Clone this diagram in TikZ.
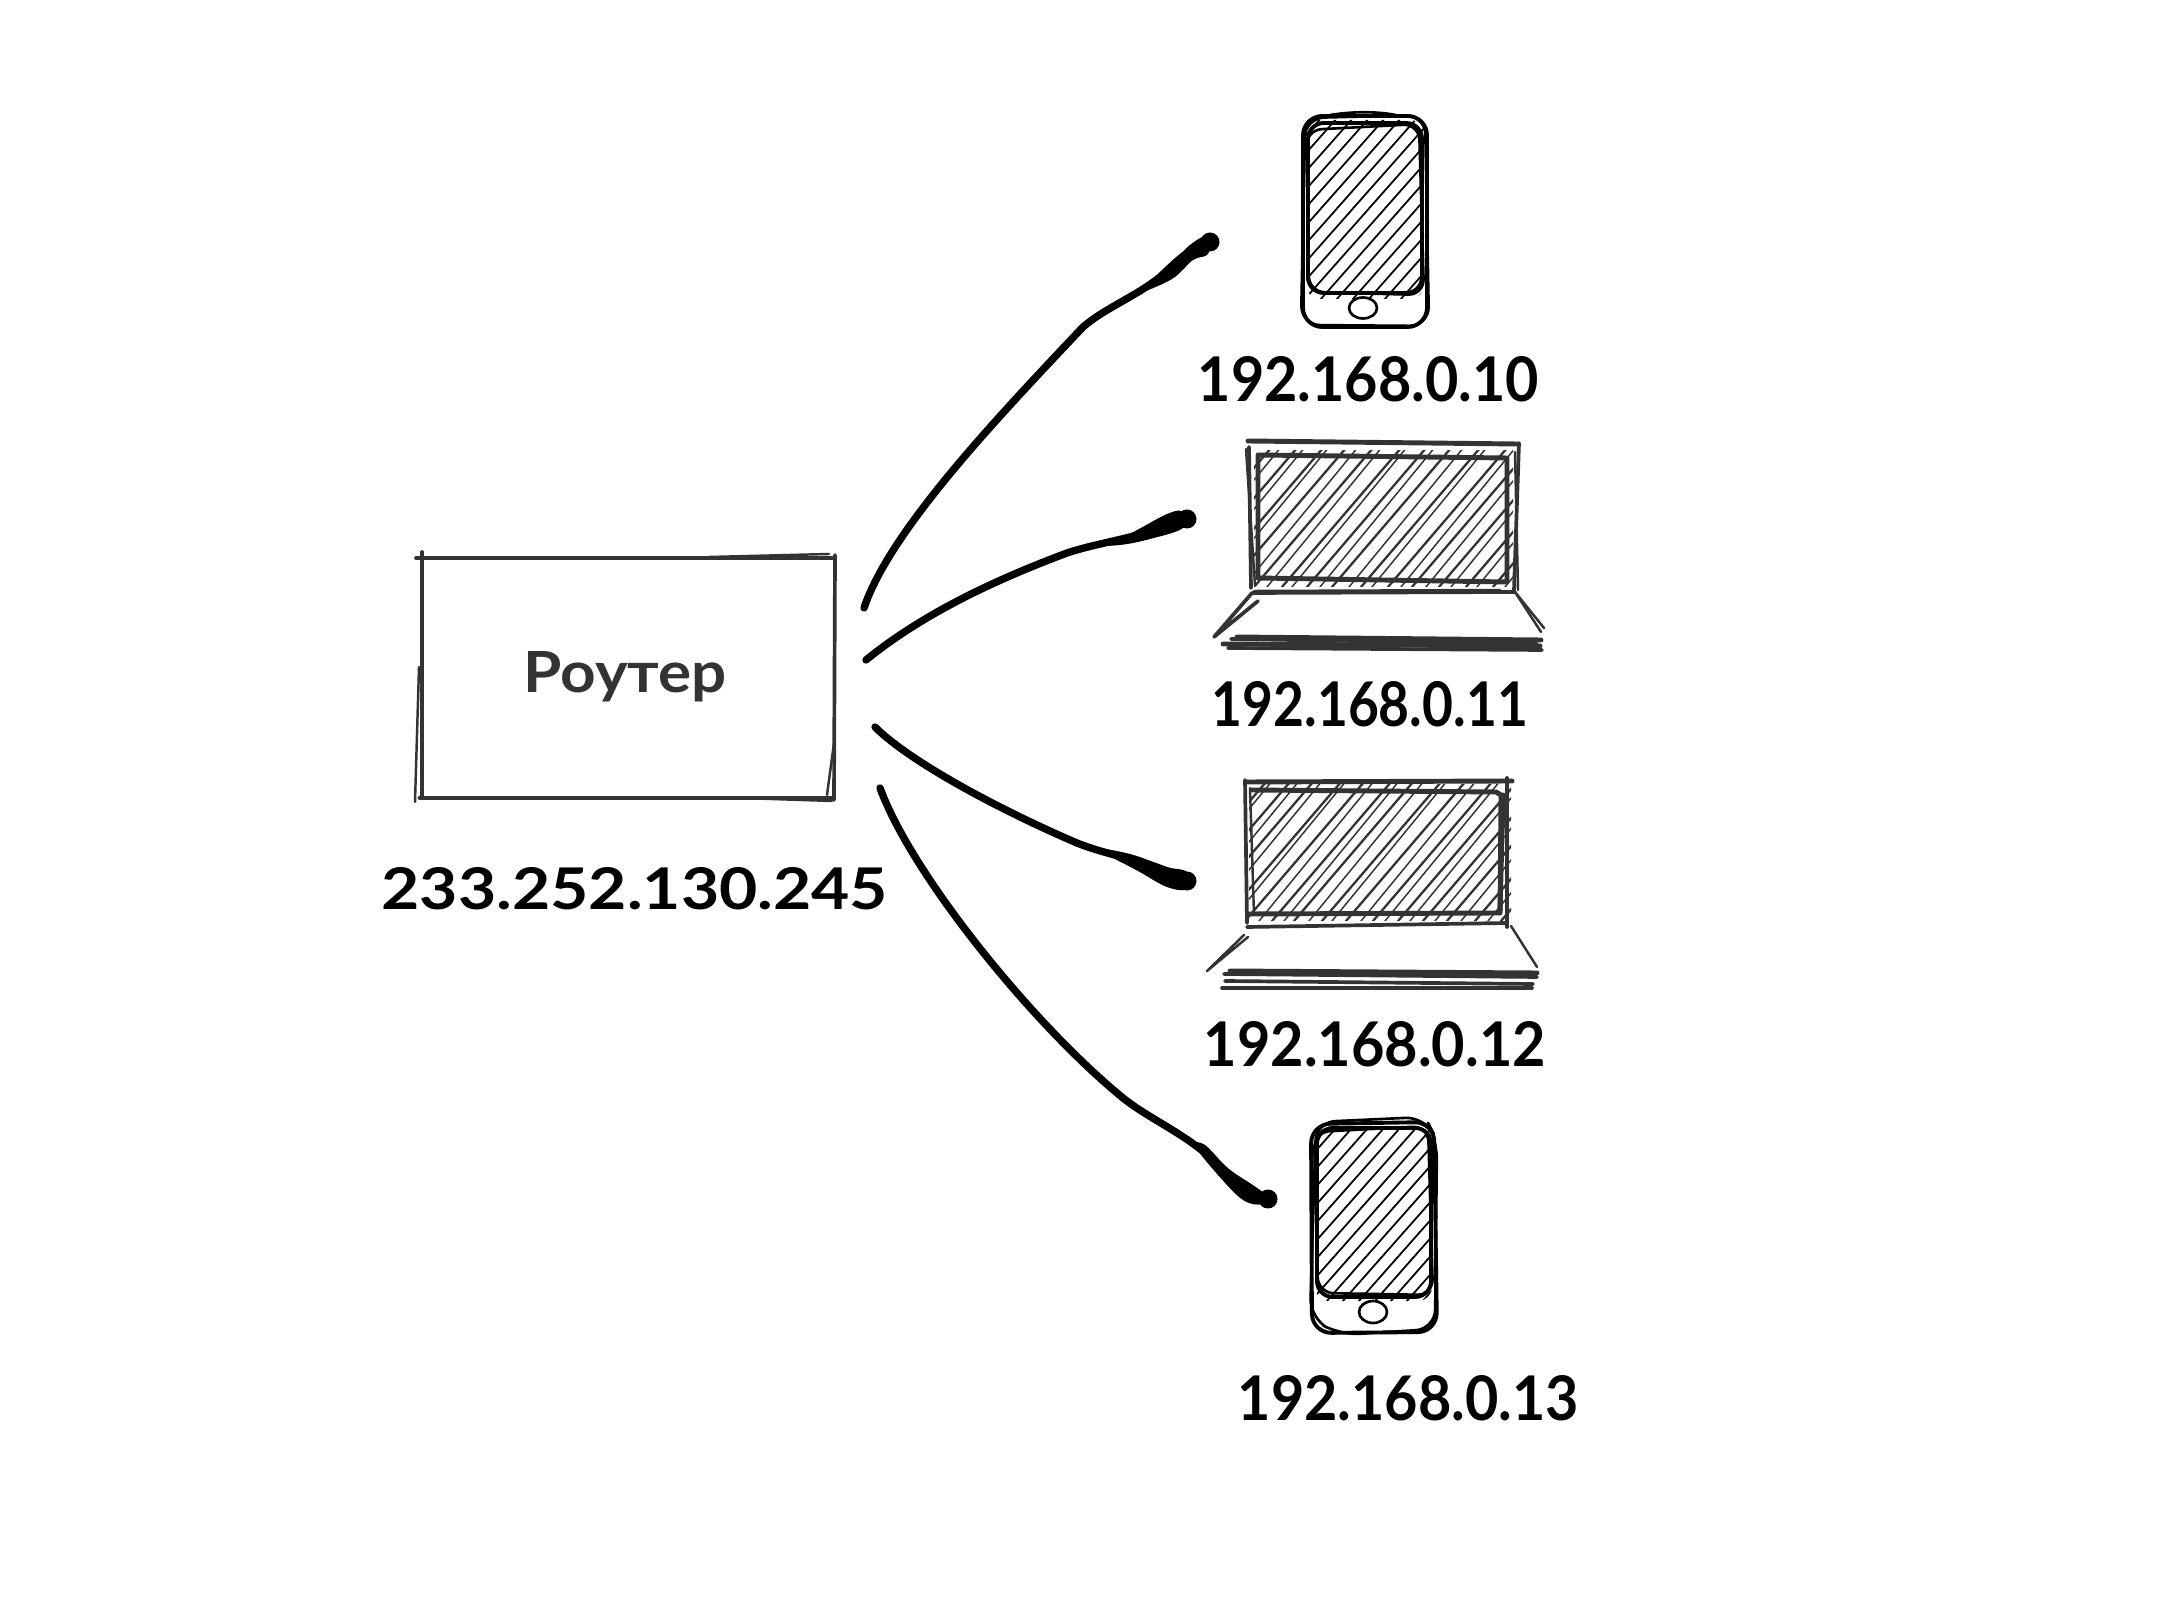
\documentclass[tikz,border=0pt]{standalone}
\usepackage{fontspec}
\usepackage{graphicx}
\setmainfont{Lato}
\definecolor{ink}{HTML}{333333}
\tikzset{
  px/.style={x=0.01cm,y=-0.01cm},
  frame/.style={draw=ink,line width=1.05pt,line cap=round,line join=round},
  thin frame/.style={draw=ink,line width=0.7pt,line cap=round,line join=round},
  thick frame/.style={draw=ink,line width=1.4pt,line cap=round,line join=round},
  hatching/.style={draw=ink,line width=0.65pt,line cap=round},
  hatching thin/.style={draw=ink,line width=0.42pt,line cap=round},
  phone/.style={draw=black,line width=1.1pt,line cap=round,line join=round},
  phone thin/.style={draw=black,line width=0.75pt,line cap=round,line join=round},
  phone hatch/.style={draw=black,line width=0.5pt,line cap=round},
  wire/.style={draw=black,line width=2.1pt,line cap=round,line join=round},
  blob/.style={fill=black},
  ipaddr/.style={inner sep=0pt,anchor=base west,text=black},
  routertext/.style={inner sep=0pt,anchor=base west,text=ink}
}
\newcommand{\fitlabel}[3]{\resizebox{#1}{#2}{#3}}
\begin{document}
\begin{tikzpicture}[px]
\useasboundingbox (0,0) rectangle (2157,1601);
\fill[white] (0,0) rectangle (2157,1601);

% ---------- router
\draw[frame] (416,558) -- (832,558);
\draw[thin frame] (709,557) -- (829,554);
\draw[frame] (422,552) -- (422,797);
\draw[thin frame] (419,667) -- (415,802);
\draw[frame] (835,555) -- (834,800);
\draw[thin frame] (834,743) -- (827,795);
\draw[thick frame] (420,798) -- (832,798);
\draw[thin frame] (741,798) -- (832,801);
\node[routertext] (router) at (523,693) {\fitlabel{2.03cm}{0.41cm}{\bfseries Роутер}};
\node[ipaddr] (routerip) at (381,910) {\fitlabel{5.06cm}{0.42cm}{\bfseries 233.252.130.245}};

% ---------- connector ends
\coordinate (r1) at (864,608);
\coordinate (r2) at (866,660);
\coordinate (r3) at (875,727);
\coordinate (r4) at (880,788);
\coordinate (e1) at (1210,242);
\coordinate (e2) at (1187,519);
\coordinate (e3) at (1187,881);
\coordinate (e4) at (1268,1199);

\draw[wire] (r1) .. controls (890,530) and (1000,415) .. (1083,327) .. controls (1105,308) and (1135,297) .. (1160,277) .. controls (1175,263) and (1190,247) .. (e1);
\draw[wire] (r2) .. controls (925,612) and (1000,578) .. (1067,553) .. controls (1100,542) and (1140,538) .. (e2);
\draw[wire] (r3) .. controls (910,762) and (1000,810) .. (1077,843) .. controls (1115,858) and (1150,860) .. (e3);
\draw[wire] (r4) .. controls (912,875) and (1030,1020) .. (1117,1093) .. controls (1150,1122) and (1195,1135) .. (1230,1178) -- (e4);

\fill[blob] plot[smooth cycle,tension=0.6] coordinates {(1140,292) (1168,268) (1190,245) (1208,236) (1208,254) (1193,260) (1172,279)};
\fill[blob] (e1) circle [radius=9.5];
\fill[blob] plot[smooth cycle,tension=0.6] coordinates {(1095,545) (1127,535) (1167,514) (1183,512) (1183,528) (1150,539) (1120,545)};
\fill[blob] (e2) circle [radius=9.5];
\fill[blob] plot[smooth cycle,tension=0.6] coordinates {(1100,850) (1130,854) (1167,867) (1187,872) (1187,889) (1167,887) (1138,871)};
\fill[blob] (e3) circle [radius=9.5];
\fill[blob] plot[smooth cycle,tension=0.6] coordinates {(1195,1146) (1205,1145) (1229,1169) (1262,1192) (1262,1204) (1243,1200) (1218,1175)};
\fill[blob] (e4) circle [radius=9.5];

% ---------- phone 1
\begin{scope}
\clip[rounded corners=4pt] (1306,120) rectangle (1424,299);
\foreach \b in {1160,1176,1192,1208,1224,1240,1256,1272,1288,1304,1320,1336,1352,1368,1384,1400,1416}
  \draw[phone hatch] (\b,300) -- ++(200,-226);
\end{scope}
\draw[phone,rounded corners=5.5pt] (1303,116) rectangle (1427,327);
\draw[phone thin,rounded corners=5.5pt] (1305,118) -- (1425,115) -- (1429,326) -- (1301,325) -- cycle;
\draw[phone thin] (1325,116) .. controls (1350,111) and (1380,111) .. (1400,116);
\draw[phone,rounded corners=4.5pt] (1308,123) rectangle (1422,293);
\draw[phone thin,rounded corners=4.5pt] (1306,130) -- (1419,124) -- (1424,295) -- (1309,292) -- cycle;
\draw[phone thin] (1363,297) ++(14,11) arc [start angle=0,end angle=360,x radius=14,y radius=10.5];

% ---------- laptop 1
\draw[thick frame] (1248,441) -- (1517,444);
\draw[frame] (1249,447) -- (1251,588);
\draw[thin frame] (1246,449) -- (1255,585);
\draw[frame] (1519,443) -- (1514,590);
\draw[thin frame] (1515,452) -- (1518,590);
\draw[thick frame] (1258,455) -- (1507,458) -- (1507,582) -- (1258,578) -- cycle;
\draw[frame] (1252,593) -- (1515,592);
\draw[thin frame] (1254,591) -- (1500,590);
\draw[frame] (1252,593) -- (1214,637) -- (1258,601);
\draw[thin frame] (1515,592) -- (1544,628);
\draw[thin frame] (1515,592) -- (1541,632);
\draw[thick frame] (1237,637) -- (1541,640);
\draw[frame] (1231,639) -- (1537,644);
\draw[thick frame] (1223,644) -- (1540,646);
\draw[frame] (1228,648) -- (1542,650);
\begin{scope}
\clip (1254,451) rectangle (1513,587);
\foreach \b [count=\i] in {1128,1141,1152,1166,1178,1190,1204,1214,1227,1243,1254,1267,1282,1292,1307,1320,1332,1349,1361,1372,1388,1401,1412,1426,1439,1451,1466,1477,1493,1505}{
  \ifodd\i
    \draw[hatching] (\b,587) -- ++(125,-146);
  \else
    \draw[hatching thin] (\b,587) -- ++(120,-146);
  \fi
}
\end{scope}

% ---------- laptop 2
\draw[thick frame] (1247,782) -- (1512,781);
\draw[frame] (1245,780) -- (1247,923);
\draw[thin frame] (1250,788) -- (1254,915);
\draw[frame] (1507,778) -- (1507,927);
\draw[thick frame] (1503,795) -- (1500,912);
\draw[frame] (1247,927) -- (1507,923);
\draw[thick frame] (1252,790) -- (1496,792) -- (1501,795) -- (1500,913) -- (1248,914);
\draw[thin frame] (1244,935) -- (1207,971) -- (1248,937);
\draw[thin frame] (1511,926) -- (1537,967);
\draw[thick frame] (1230,971) -- (1537,973);
\draw[frame] (1224,974) -- (1537,977);
\draw[frame] (1225,981) -- (1533,984);
\draw[frame] (1222,988) -- (1532,988);
\begin{scope}
\clip (1249,785) rectangle (1511,921);
\foreach \b [count=\i] in {1120,1134,1147,1157,1171,1184,1194,1207,1222,1231,1245,1259,1272,1284,1294,1309,1322,1332,1346,1361,1373,1385,1398,1410,1423,1435,1447,1461,1475,1488,1501}{
  \ifodd\i
    \draw[hatching] (\b,921) -- ++(125,-146);
  \else
    \draw[hatching thin] (\b,921) -- ++(120,-146);
  \fi
}
\end{scope}

% ---------- phone 2
\begin{scope}
\clip[rounded corners=4pt] (1315,1126) rectangle (1432,1301);
\foreach \b in {1166,1182,1198,1214,1230,1246,1262,1278,1294,1310,1326,1342,1358,1374,1390,1406,1422}
  \draw[phone hatch] (\b,1302) -- ++(200,-226);
\end{scope}
\draw[phone,rounded corners=5.5pt] (1311,1124) -- (1434,1122) -- (1437,1332) -- (1312,1333) -- cycle;
\draw[phone thin,rounded corners=5.5pt] (1316,1122) -- (1425,1117) -- (1437,1140) -- (1435,1329) -- (1340,1335) -- (1310,1318) -- cycle;
\draw[phone,rounded corners=4.5pt] (1317,1128) rectangle (1431,1297);
\draw[phone thin,rounded corners=4.5pt] (1314,1132) -- (1428,1126) -- (1433,1295) -- (1318,1293) -- cycle;
\draw[phone thin] (1387,1312) arc [start angle=0,end angle=360,x radius=14,y radius=11];

% ---------- labels
\node[ipaddr] (ip10) at (1197,402) {\fitlabel{3.41cm}{0.45cm}{\bfseries 192.168.0.10}};
\node[ipaddr] (ip11) at (1211,727) {\fitlabel{3.16cm}{0.45cm}{\bfseries 192.168.0.11}};
\node[ipaddr] (ip12) at (1203,1067) {\fitlabel{3.42cm}{0.45cm}{\bfseries 192.168.0.12}};
\node[ipaddr] (ip13) at (1237,1420) {\fitlabel{3.41cm}{0.45cm}{\bfseries 192.168.0.13}};
\end{tikzpicture}
\end{document}
